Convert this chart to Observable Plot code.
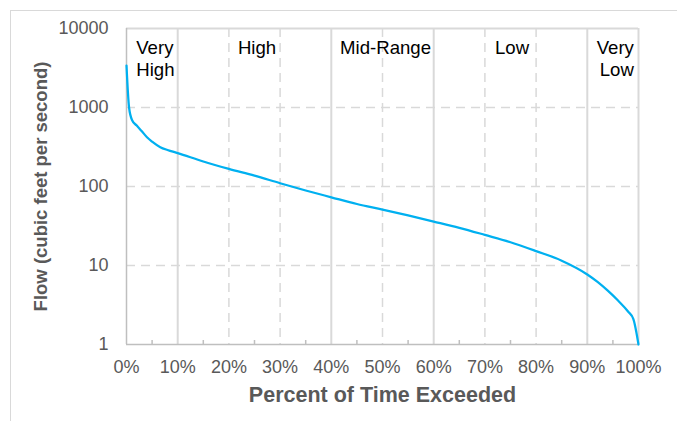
<!DOCTYPE html>
<html><head><meta charset="utf-8">
<script src="https://cdn.jsdelivr.net/npm/d3@7"></script>
<script src="https://cdn.jsdelivr.net/npm/@observablehq/plot@0.6"></script>
<style>
html,body{margin:0;padding:0;background:#fff;overflow:hidden}
#wrap{position:relative;width:677px;height:421px;overflow:hidden}
#chart{position:absolute;left:0;top:0}
#box{position:absolute;left:10px;top:10px;width:800px;height:600px;border:1px solid #d9d9d9}
</style></head><body>
<div id="wrap"><div id="chart"></div><div id="box"></div></div>
<script>
// Flow duration curve
const pct  = [0, 0.5, 1.1, 2, 3, 4, 5, 6.6, 8, 10, 15, 20, 25, 30, 35, 40, 45, 50, 55, 60, 65, 70, 75, 80, 85, 90, 92, 94, 96, 98, 99, 100];
const flow = [3400, 1000, 690, 590, 500, 420, 370, 315, 290, 265, 207, 167, 137, 110, 89, 73, 60, 51, 43, 36, 30, 24.4, 19.7, 15.2, 11.5, 7.7, 6.2, 4.8, 3.6, 2.6, 2.1, 1];

const xTicks = [0, 10, 20, 30, 40, 50, 60, 70, 80, 90, 100];
const yTicks = [1, 10, 100, 1000, 10000];
const solidX = [10, 40, 60, 90, 100];
const dashedX = [20, 30, 50, 70, 80];
const dashedY = [10, 100, 1000];
const minorX = [5, 15, 25, 35, 45, 55, 65, 75, 85, 95];

const categories = ["Very\nHigh", "High", "Mid-Range", "Low", "Very\nLow"];
const categoryX = [1.9, 25.5, 50.6, 75.3, 99.1];

const xTitle = "Percent of Time Exceeded";
const yTitle = "Flow (cubic feet per second)";

const series = pct.map((p, i) => ({p, f: flow[i]}));
const cats = categories.map((label, i) => ({label, x: categoryX[i],
  anchor: i === 0 ? "start" : i === categories.length - 1 ? "end" : "middle"}));

const catMark = (anchor) => Plot.text(cats.filter(d => d.anchor === anchor), {
  x: "x", text: "label", frameAnchor: "top", lineAnchor: "top", dy: 10,
  textAnchor: anchor, fontSize: 18.6, lineHeight: 1.18, fill: "#000"
});

const plot = Plot.plot({
  width: 677, height: 421,
  marginLeft: 126, marginRight: 39, marginTop: 28, marginBottom: 77,
  style: {fontFamily: "Arial, 'Liberation Sans', sans-serif", background: "transparent", overflow: "visible"},
  x: {domain: [0, 100]},
  y: {type: "log", domain: [1, 10000]},
  marks: [
    Plot.ruleY(dashedY, {stroke: "#d9d9d9", strokeWidth: 1.5, strokeDasharray: "9,6"}),
    Plot.ruleX(dashedX, {stroke: "#d9d9d9", strokeWidth: 1.5, strokeDasharray: "9,6"}),
    Plot.ruleX(solidX, {stroke: "#d9d9d9", strokeWidth: 2}),
    Plot.ruleY([10000], {stroke: "#d9d9d9", strokeWidth: 2}),
    Plot.tickX(minorX, {x: d => d, insetTop: 312, stroke: "#bfbfbf", strokeWidth: 1.5}),
    Plot.ruleX([0], {stroke: "#bfbfbf", strokeWidth: 1.5}),
    Plot.ruleY([1], {stroke: "#bfbfbf", strokeWidth: 1.5}),
    Plot.line(series, {x: "p", y: "f", stroke: "#00b0f0", strokeWidth: 2.25, curve: "monotone-x"}),
    Plot.axisX({ticks: xTicks, tickFormat: d => d + "%", tickSize: 0, tickPadding: 16, fontSize: 18, fill: "#595959", label: null}),
    Plot.axisY({ticks: yTicks, tickFormat: d => String(d), tickSize: 0, tickPadding: 18, fontSize: 18, fill: "#595959", label: null}),
    catMark("start"), catMark("middle"), catMark("end"),
    Plot.text([xTitle], {text: d => d, frameAnchor: "bottom", lineAnchor: "bottom", dy: 57.7,
      textAnchor: "middle", fontSize: 21.5, fontWeight: "bold", fill: "#595959"}),
    Plot.text([yTitle], {text: d => d, frameAnchor: "left", lineAnchor: "middle", textAnchor: "middle",
      dx: -85, rotate: -90, fontSize: 18.5, fontWeight: "bold", fill: "#595959"})
  ]
});
document.getElementById("chart").appendChild(plot);
</script>
</body></html>
